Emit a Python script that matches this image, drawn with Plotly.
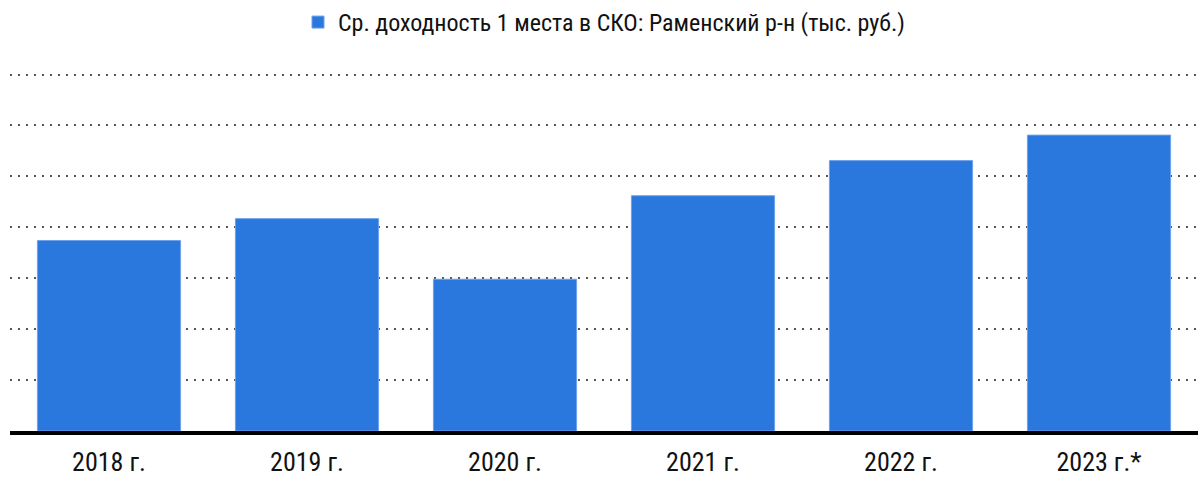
import plotly.graph_objects as go

# Average annual revenue per parking space, Ramensky district (thousand roubles)
years = ["2018 г.", "2019 г.", "2020 г.", "2021 г.", "2022 г.", "2023 г.*"]
revenue = [37.4, 41.7, 29.8, 46.2, 53.1, 58.1]
series_name = "Ср. доходность 1 места в СКО: Раменский р-н (тыс. руб.)"

font_family = "Roboto Condensed, Arial Narrow, sans-serif"
bar_color = "#2a77dd"

fig = go.Figure(
    go.Bar(
        x=years,
        y=revenue,
        name=series_name,
        marker=dict(color=bar_color, line=dict(color="#6ea2ea", width=1)),
        showlegend=True,
    )
)

fig.update_layout(
    width=1199,
    height=478,
    margin=dict(l=10, r=1, t=60, b=47),
    paper_bgcolor="white",
    plot_bgcolor="white",
    bargap=0.277,
    font=dict(family=font_family, size=24, color="#111"),
    showlegend=True,
    legend=dict(
        orientation="h",
        x=0.5,
        xanchor="center",
        yref="container",
        y=0.953,
        yanchor="middle",
        font=dict(size=24, color="#111"),
        itemwidth=30,
    ),
    xaxis=dict(
        showline=True,
        linecolor="black",
        linewidth=4,
        showgrid=False,
        ticks="",
        tickfont=dict(size=26, color="#111"),
        ticklabelstandoff=5,
    ),
    yaxis=dict(
        range=[0, 72.85],
        dtick=10,
        showticklabels=False,
        showgrid=True,
        gridcolor="#555",
        gridwidth=2,
        griddash="2px,6px",
        zeroline=False,
        showline=False,
    ),
)

fig.write_html("out.html")
